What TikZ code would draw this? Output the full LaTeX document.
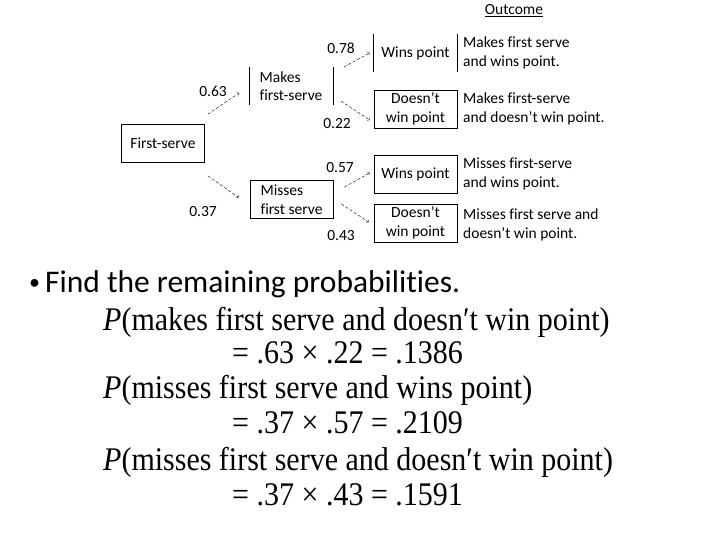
\documentclass[tikz,border=0pt]{standalone}
\usepackage{fontspec}
\setmainfont{Carlito}[Ligatures={NoCommon}]
\newfontfamily\eqfont{Liberation Serif}
\usetikzlibrary{positioning,arrows}
\tikzstyle{arrow} = [densely dashed, thin, ->, >=to]
\tikzset{
 box/.style
  = {rectangle, draw, line width=0.8pt, minimum width=83pt, minimum height=38pt,
     inner sep=2pt, align=center, font=\fontsize{15.5}{18.5}\selectfont},
 half/.style
  = {box, draw=none},
 prob/.style
  = {inner sep=1pt, font=\fontsize{15.5}{18}\selectfont},
 outtxt/.style
  = {anchor=west, align=left, inner sep=0pt, font=\fontsize{15.5}{18.5}\selectfont},
 eq/.style
  = {anchor=base west, inner sep=0pt, font=\eqfont\fontsize{30}{36}\selectfont},
}

\begin{document}
\begin{tikzpicture}[x=1pt,y=-1pt]
\useasboundingbox[fill=white] (0,0) rectangle (720,540);

% Column title
\node[prob] (oc) at (514,11) {\underline{Outcome}};

% First serve
\node[box] (fs) at (163,143.5) {First-serve};

% Serve result
\node[half, align=left] (mk) at (291,86) {Makes\\first-serve};
\draw[line width=0.8pt] (mk.north west) -- (mk.south west);
\draw[line width=0.8pt] (mk.north east) -- (mk.south east);
\node[box, align=left] (ms) at (291.5,199.5) {Misses\\first serve};

% Point result
\node[half] (w1) at (415.5,53) {Wins point};
\draw[line width=0.8pt] (w1.north west) -- (w1.south west);
\draw[line width=0.8pt] (w1.north east) -- (w1.south east);
\node[box] (d1) at (415.5,109) {Doesn't\\win point};
\node[box] (w2) at (415.5,174) {Wins point};
\node[box] (d2) at (415.5,223) {Doesn't\\win point};

% Outcomes
\node[outtxt] (o1) at (463,53) {Makes first serve\\and wins point.};
\node[outtxt] (o2) at (463,109) {Makes first-serve\\and doesn't win point.};
\node[outtxt] (o3) at (463,174) {Misses first-serve\\and wins point.};
\node[outtxt] (o4) at (463,225) {Misses first serve and\\doesn't win point.};

% Probabilities
\node[prob] (p1) at (213,91) {0.63};
\node[prob] (p2) at (203,212) {0.37};
\node[prob] (p3) at (341,48) {0.78};
\node[prob] (p4) at (337,124) {0.22};
\node[prob] (p5) at (340,168) {0.57};
\node[prob] (p6) at (341,236) {0.43};

% Branches
\draw[arrow] ([shift={(3,-10)}]fs.north east) -- ([shift={(-10,7)}]mk.west);
\draw[arrow] ([shift={(3,13)}]fs.south east) -- ([shift={(-11,-2)}]ms.west);
\draw[arrow] ([shift={(11,-19)}]mk.east) -- ([shift={(-4,0)}]w1.west);
\draw[arrow] ([shift={(8,15)}]mk.east) -- ([shift={(-4,11)}]d1.west);
\draw[arrow] ([shift={(11,-12.5)}]ms.east) -- ([shift={(-4,-1)}]w2.west);
\draw[arrow] ([shift={(8,4.5)}]ms.east) -- ([shift={(-5,-1)}]d2.west);

% Question
\node[anchor=base west, inner sep=0pt, font=\fontsize{31.5}{36}\selectfont] (q) at (29,292)
  {\raisebox{3pt}{\fontsize{22}{22}\selectfont •}\hspace{5pt}Find the remaining probabilities.};

% Answers
\node[eq] (e1) at (103,330) {\scalebox{1}[1.1]{\textit{P}(makes first serve and doesn′t win point)}};
\node[eq] (e2) at (232,363) {\scalebox{1}[1.1]{= .63 × .22 = .1386}};
\node[eq] (e3) at (103,398) {\scalebox{1}[1.1]{\textit{P}(misses first serve and wins point)}};
\node[eq] (e4) at (232,433) {\scalebox{1}[1.1]{= .37 × .57 = .2109}};
\node[eq] (e5) at (103,470) {\scalebox{1}[1.1]{\textit{P}(misses first serve and doesn′t win point)}};
\node[eq] (e6) at (232,505) {\scalebox{1}[1.1]{= .37 × .43 = .1591}};

\end{tikzpicture}
\end{document}
